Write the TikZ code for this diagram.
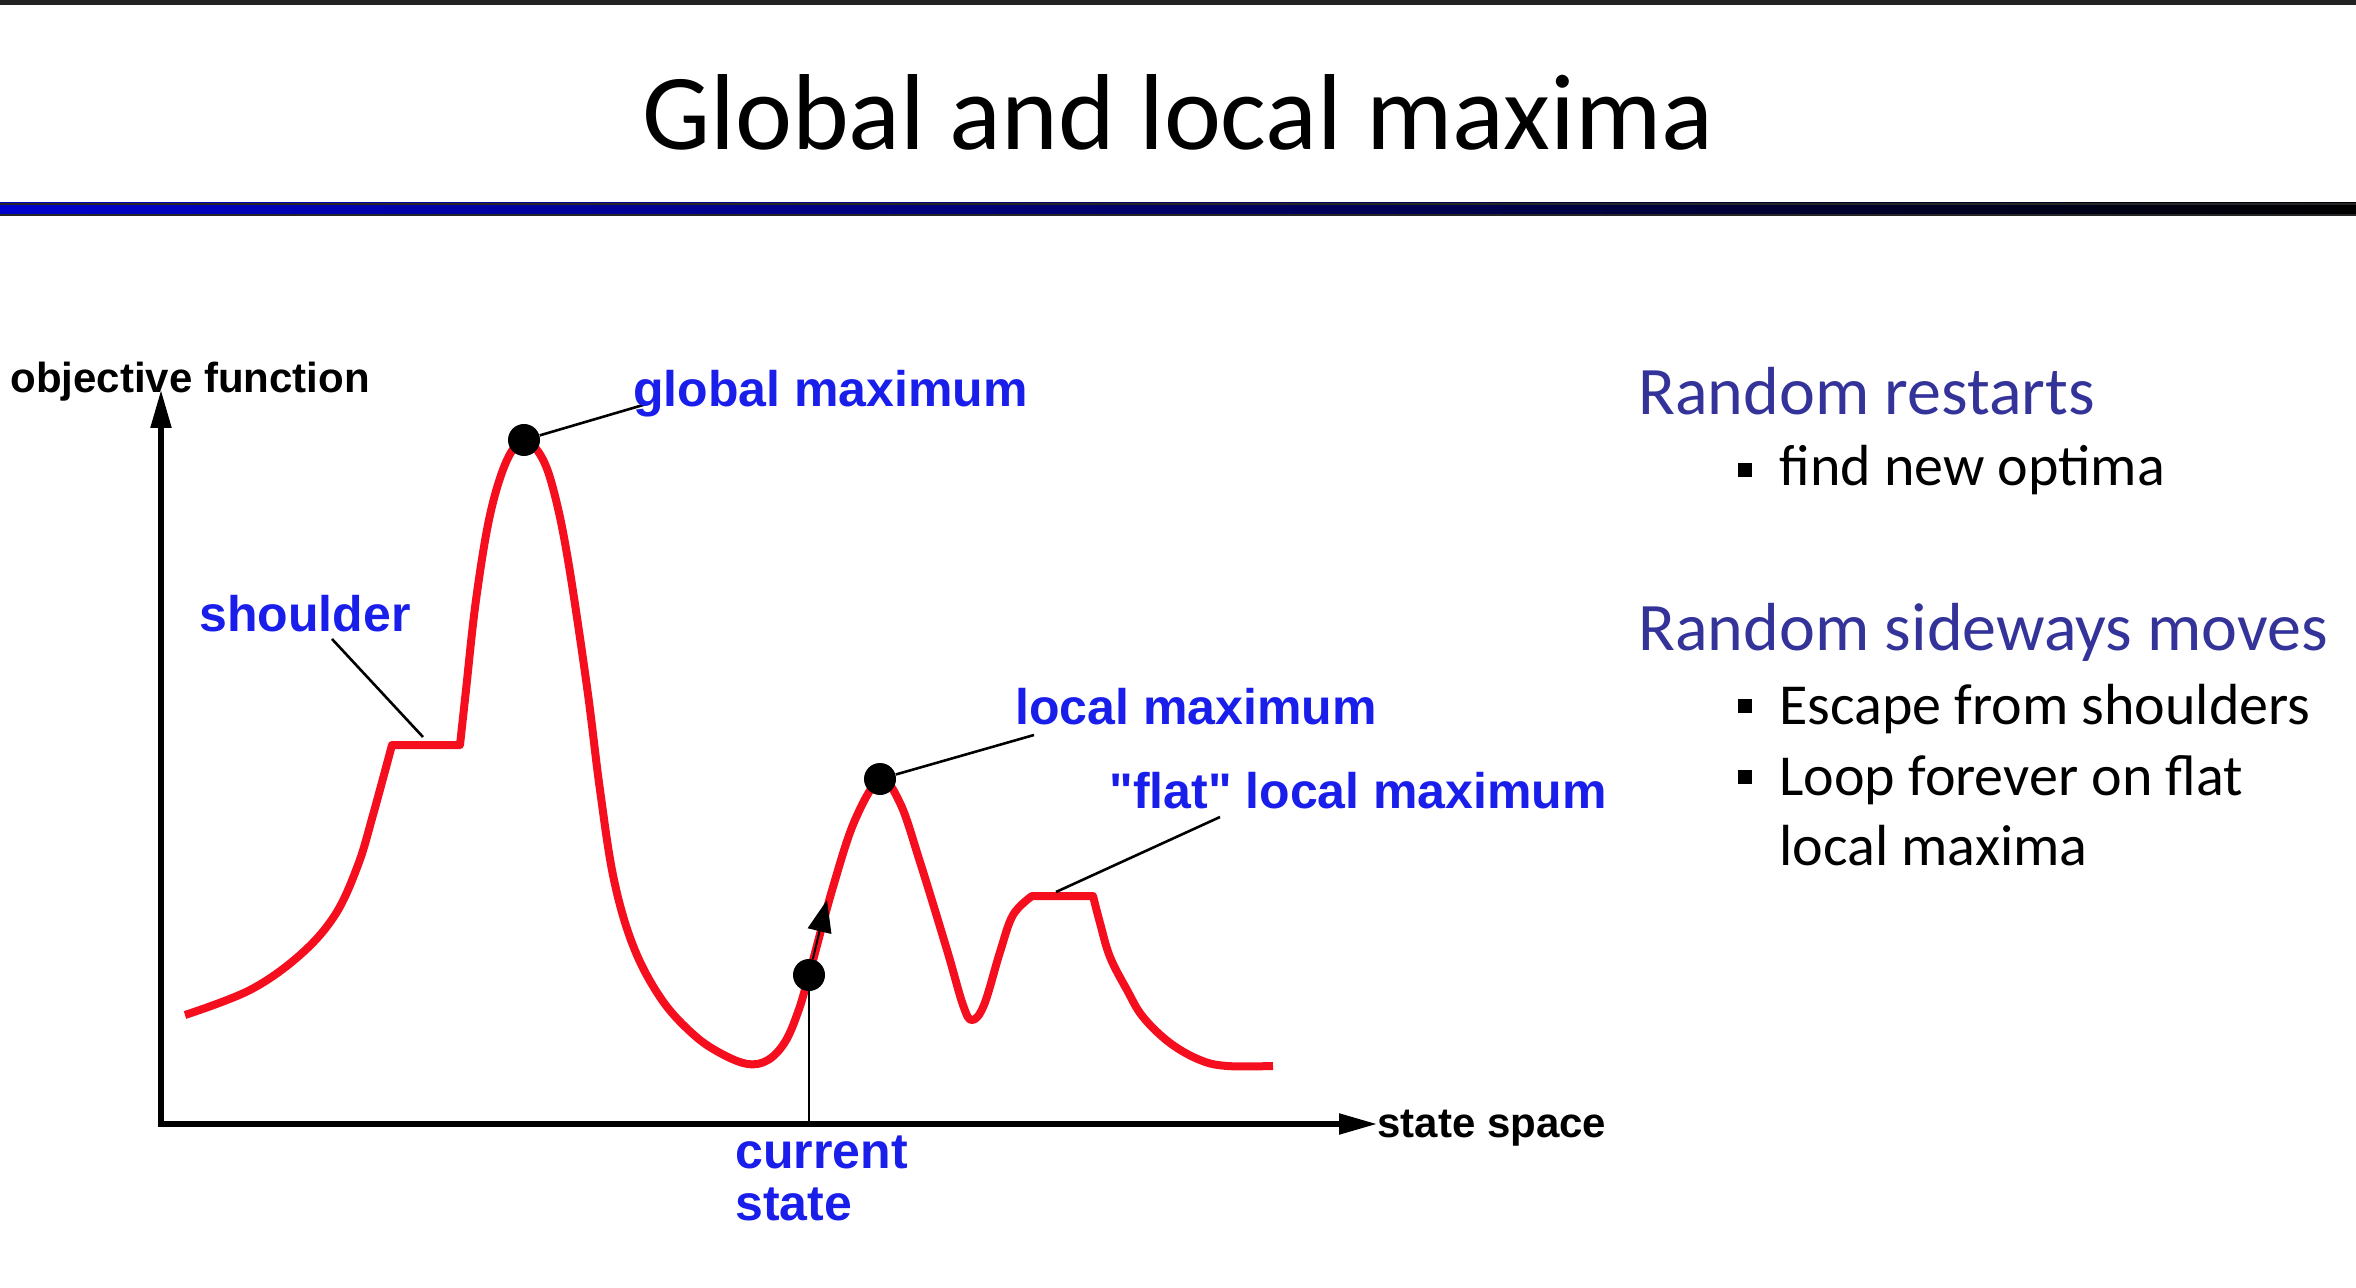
\documentclass[tikz,border=0pt]{standalone}
\usepackage{fontspec}
\setmainfont{Carlito}
\newfontfamily\labfont{Liberation Sans}
\usetikzlibrary{arrows.meta}
\definecolor{labblue}{RGB}{25,30,235}
\definecolor{headblue}{RGB}{51,51,153}
\definecolor{curvered}{RGB}{245,15,30}
\definecolor{barblue}{RGB}{0,0,205}
\definecolor{topbar}{RGB}{34,34,34}
\tikzset{
  lab/.style={font=\labfont\bfseries\fontsize{25}{30}\selectfont, text=labblue, inner sep=0pt, anchor=base west},
  axlab/.style={font=\labfont\bfseries\fontsize{21}{25}\selectfont, text=black, inner sep=0pt, anchor=base west},
  head/.style={font=\fontsize{34}{40}\selectfont, text=headblue, inner sep=0pt, anchor=base west},
  item/.style={font=\fontsize{29}{35}\selectfont, text=black, inner sep=0pt, anchor=base west},
  bul/.style={rectangle, fill=black, minimum size=7pt, inner sep=0pt},
  dot/.style={circle, fill=black, minimum size=16pt, inner sep=0pt},
  axisline/.style={line width=2.6pt, {Triangle[length=19pt,width=10pt]}-{Triangle[length=19pt,width=10pt]}},
  leader/.style={line width=1.3pt, draw=black},
  curve/.style={line width=4pt, draw=curvered, line join=round},
}
\begin{document}
\begin{tikzpicture}[x=0.5pt,y=-0.5pt]
\useasboundingbox (0,0) rectangle (2356,1288);
\fill[white] (0,0) rectangle (2356,1288);
% header bars
\fill[topbar] (0,0) rectangle (2356,5);
\shade[left color=barblue, right color=black] (0,203) rectangle (2356,216);
\draw[black!85, line width=1pt] (0,204) -- (2356,204);
\draw[black!85, line width=1.2pt] (0,215) -- (2356,215);
\node[font=\fontsize{54}{60}\selectfont, anchor=base, inner sep=0pt] (title) at (1178,150) {Global and local maxima};

% axes
\coordinate (ytip) at (161,390);
\coordinate (origin) at (161,1124);
\coordinate (xtip) at (1377,1124);
\draw[axisline] (ytip) -- (origin) -- (xtip);
\node[axlab] (ylab) at (10,393) {objective function};
\node[axlab] (xlab) at (1377,1137) {state space};

% curve
\draw[curve] plot[smooth, tension=0.6] coordinates {(185,1015) (250,990) (300,955) (335,915) (358,865) (373,815) (392,745)}
  -- (460,745)
  -- plot[smooth, tension=0.6] coordinates {(460,745) (466,690) (476,600) (490,515) (507,460) (524,441) (541,456) (554,492) (568,560) (587,687) (600,790) (614,880) (634,948) (662,1000) (694,1035) (722,1054) (748,1064) (768,1060) (785,1042) (798,1012) (809,975) (833,887) (855,820) (880,780) (900,803) (920,862) (947,950) (963,1005) (972,1020) (984,1005) (1000,952) (1013,915) (1032,896)}
  -- (1093,896)
  -- plot[smooth, tension=0.6] coordinates {(1093,896) (1100,923) (1110,957) (1127,990) (1143,1017) (1170,1043) (1200,1060) (1227,1066) (1273,1066)};

% markers
\node[dot] (gm) at (524,440) {};
\node[dot] (lm) at (880,779) {};
\node[dot] (cs) at (809,975) {};

% arrow along the curve
\coordinate (atip) at (827,900);
\draw[line width=1pt, -{Triangle[length=16pt,width=12pt]}] (cs) -- (atip);

% leaders
\coordinate (gmend) at (650,403);
\coordinate (lmend) at (1034,735);
\coordinate (shA) at (332,639);
\coordinate (shB) at (423,737);
\coordinate (flA) at (1220,817);
\coordinate (flB) at (1056,892);
\coordinate (csend) at (809,1124);
\draw[leader] (gm) -- (gmend);
\draw[leader] (lm) -- (lmend);
\draw[leader] (shA) -- (shB);
\draw[leader] (flA) -- (flB);
\draw[line width=1pt] (cs) -- (csend);

% labels
\node[lab] (glab) at (633,407) {global maximum};
\node[lab] (shlab) at (199,632) {shoulder};
\node[lab] (lmlab) at (1015,724) {local maximum};
\node[lab] (fllab) at (1109,808) {"flat" local maximum};
\node[lab] (cslab1) at (735,1168) {current};
\node[lab] (cslab2) at (735,1220) {state};

% right text
\node[head] (h1) at (1638,415) {Random restarts};
\node[bul] (b1) at (1745,470) {};
\node[item] (t1) at (1779,486) {find new optima};
\node[head] (h2) at (1638,651) {Random sideways moves};
\node[bul] (b2) at (1745,706) {};
\node[item] (t2) at (1779,724) {Escape from shoulders};
\node[bul] (b3) at (1745,777) {};
\node[item] (t3) at (1779,795) {Loop forever on flat};
\node[item] (t4) at (1779,865) {local maxima};
\end{tikzpicture}
\end{document}
